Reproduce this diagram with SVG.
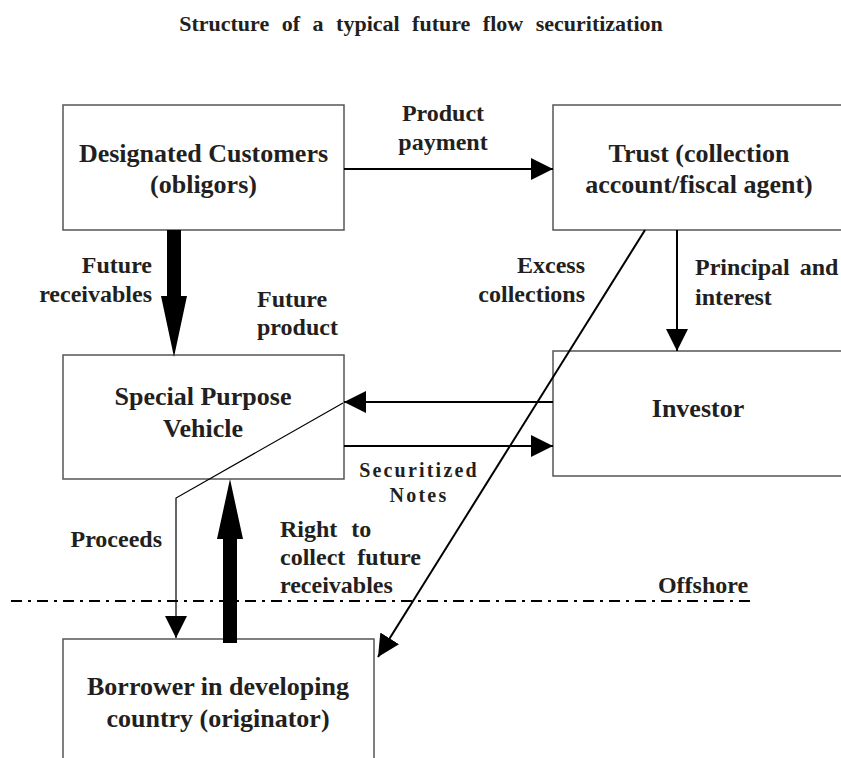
<svg xmlns="http://www.w3.org/2000/svg" width="841" height="758" viewBox="0 0 841 758">
<style>
text{font-family:"Liberation Serif","Times New Roman",serif;font-weight:bold;fill:#231f20}
.box{fill:#fff;stroke:#555;stroke-width:1.5}
.nt{font-size:26px;text-anchor:middle}
.lb{font-size:24px}
.ln{stroke:#000;stroke-width:2;fill:none}
.thin{stroke:#000;stroke-width:1.2;fill:none}
.ah{fill:#000}
</style>
<defs>
<marker id="arr" markerUnits="userSpaceOnUse" markerWidth="22" markerHeight="22" viewBox="0 0 20 20" refX="20" refY="10" orient="auto">
<path d="M0,0 L20,10 L0,20 Z" fill="#000"/>
</marker>
</defs>
<text x="421" y="31" style="font-size:22px" text-anchor="middle" word-spacing="7">Structure of a typical future flow securitization</text>

<g id="designated">
<rect class="box" x="63" y="105" width="281" height="125"/>
<text class="nt" x="203.5" y="162">Designated Customers</text>
<text class="nt" x="203.5" y="193">(obligors)</text>
</g>
<g id="trust">
<rect class="box" x="553" y="105" width="300" height="125"/>
<text class="nt" x="699" y="162">Trust (collection</text>
<text class="nt" x="699" y="193">account/fiscal agent)</text>
</g>
<g id="spv">
<rect class="box" x="63" y="355" width="281" height="124"/>
<text class="nt" x="203" y="405">Special Purpose</text>
<text class="nt" x="203" y="437">Vehicle</text>
</g>
<g id="investor">
<rect class="box" x="553" y="351" width="300" height="125"/>
<text class="nt" x="698" y="417">Investor</text>
</g>
<g id="borrower">
<rect class="box" x="63" y="639" width="311" height="140"/>
<text class="nt" x="218" y="695">Borrower in developing</text>
<text class="nt" x="218" y="727">country (originator)</text>
</g>

<g id="connectors">
<line class="ln" x1="344" y1="169" x2="553" y2="169" marker-end="url(#arr)"/>
<polygon class="ah" points="167,230 181,230 181,296 187,296 174,357 161,296 167,296"/>
<line class="ln" x1="677" y1="230" x2="677" y2="351" marker-end="url(#arr)"/>
<line class="ln" x1="645" y1="230" x2="378" y2="657" marker-end="url(#arr)"/>
<line class="ln" x1="553" y1="402" x2="344" y2="402" marker-end="url(#arr)"/>
<line class="ln" x1="344" y1="446" x2="553" y2="446" marker-end="url(#arr)"/>
<polyline class="thin" points="343,403 176,498 176,638" marker-end="url(#arr)"/>
<polygon class="ah" points="223,643 237,643 237,539 243,539 230,479 217,539 223,539"/>
<line x1="11" y1="601" x2="752" y2="601" stroke="#000" stroke-width="2" stroke-dasharray="11,6,3,6"/>
</g>

<g id="labels">
<text class="lb" x="443" y="121" text-anchor="middle">Product</text>
<text class="lb" x="443" y="150" text-anchor="middle">payment</text>
<text class="lb" x="152" y="273" text-anchor="end">Future</text>
<text class="lb" x="152" y="302" text-anchor="end">receivables</text>
<text class="lb" x="257" y="307">Future</text>
<text class="lb" x="257" y="335">product</text>
<text class="lb" x="585" y="273" text-anchor="end">Excess</text>
<text class="lb" x="585" y="302" text-anchor="end">collections</text>
<text class="lb" x="695" y="275" word-spacing="4">Principal and</text>
<text class="lb" x="695" y="305">interest</text>
<text x="419" y="477" text-anchor="middle" style="font-size:20px;letter-spacing:2.2px">Securitized</text>
<text x="419" y="502" text-anchor="middle" style="font-size:20px;letter-spacing:2.2px">Notes</text>
<text class="lb" x="162" y="547" text-anchor="end">Proceeds</text>
<text class="lb" x="280" y="537" word-spacing="8">Right to</text>
<text class="lb" x="280" y="565" word-spacing="6">collect future</text>
<text class="lb" x="280" y="593">receivables</text>
<text class="lb" x="703" y="593" text-anchor="middle">Offshore</text>
</g>
</svg>
